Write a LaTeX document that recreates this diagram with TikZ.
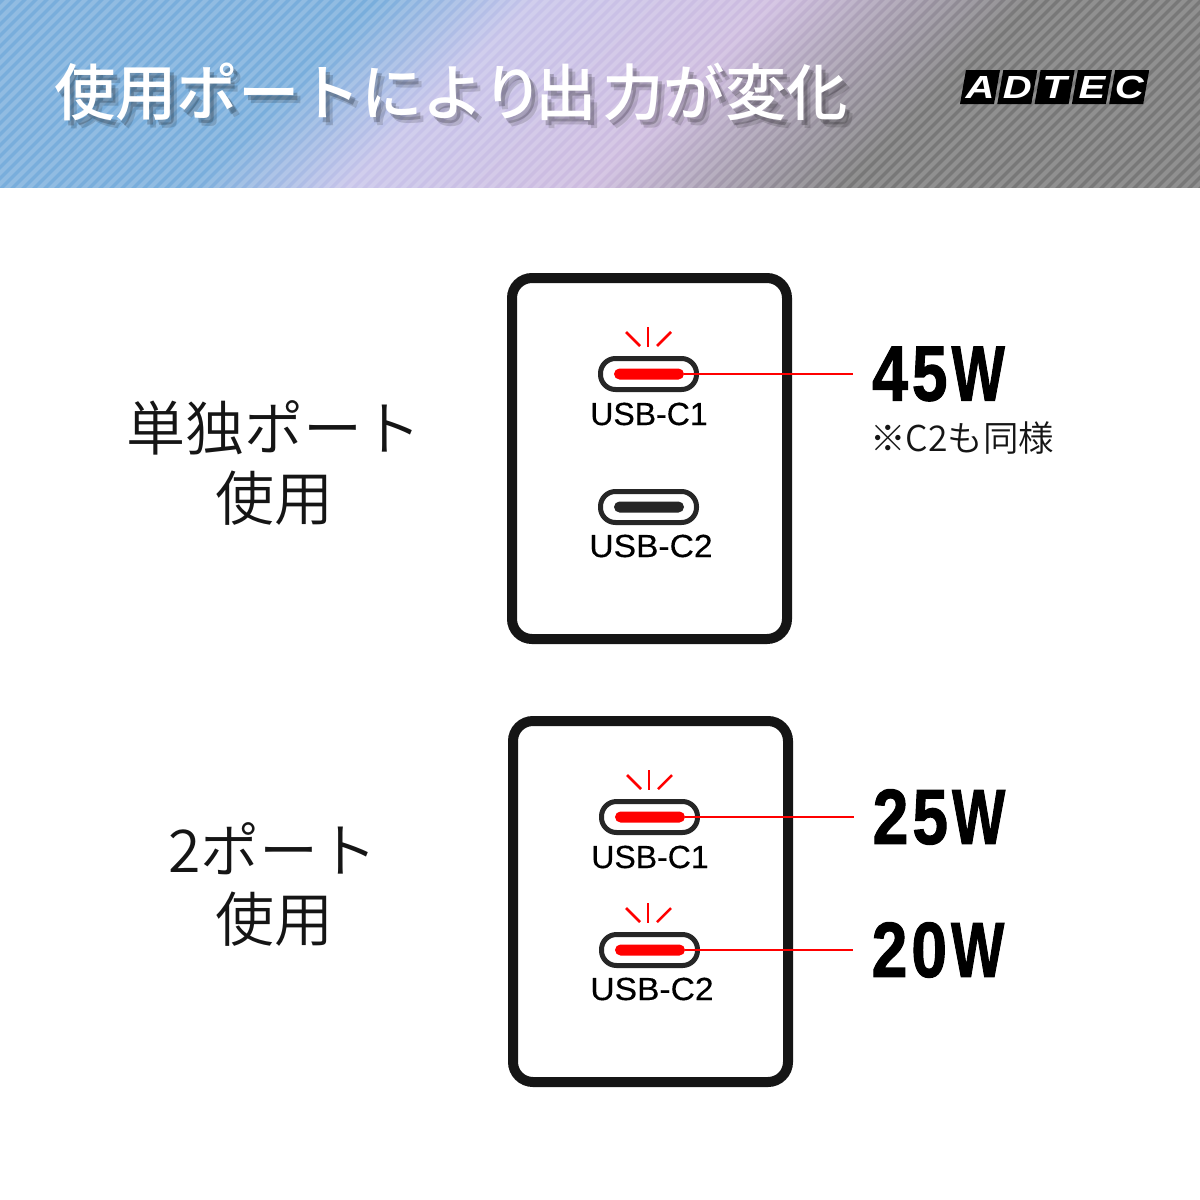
\documentclass[tikz,border=0pt]{standalone}
\usepackage{fontspec}
\usetikzlibrary{calc}
\newfontfamily\jpm{Noto Sans CJK JP Medium}
\newfontfamily\jpl{Noto Sans CJK JP DemiLight}
\newfontfamily\lat{Liberation Sans}[FakeBold=0.35]
\newfontfamily\latb{Liberation Sans Bold}[FakeBold=1.6]
\newfontfamily\latl{Liberation Sans}[BoldItalicFont={Liberation Sans Bold Italic}]
\definecolor{hblue}{HTML}{79AEDC}
\definecolor{hlav}{HTML}{C8C4EA}
\definecolor{hpink}{HTML}{CDBBDF}
\definecolor{hgray}{HTML}{787878}
\definecolor{ink}{HTML}{151515}
\definecolor{pdark}{HTML}{262626}
\pgfdeclarehorizontalshading{hdrgrad}{100bp}{color(0bp)=(hblue);color(43bp)=(hblue);color(48bp)=(hlav);color(55.5bp)=(hpink);color(63.5bp)=(hgray);color(100bp)=(hgray)}
\tikzset{
  x=1pt,y=-1pt,
  device/.style={draw=ink,line width=10pt,rounded corners=20pt,fill=white},
  pill/.style={draw=pdark,line width=5pt,rounded corners=15pt,fill=white,minimum width=96pt,minimum height=31pt,inner sep=0pt},
  slot/.style={rounded corners=5.5pt,minimum width=70pt,minimum height=11pt,inner sep=0pt},
  ray/.style={draw=red,line width=2.5pt},
  lead/.style={draw=red,line width=1.5pt},
  portlabel/.style={font=\lat\fontsize{32}{36}\selectfont,inner sep=0pt,text=black},
  sidelabel/.style={font=\jpl\fontsize{59}{60}\selectfont,inner sep=0pt,text=ink},
  titletext/.style={font=\jpm\fontsize{61.4}{62}\selectfont,inner sep=0pt},
  watt/.style={font=\latb\fontsize{78}{78}\selectfont,inner sep=0pt,xscale=.82,text=black},
  logobox/.style={fill=black,draw=none},
  logotext/.style={font=\latl\bfseries\itshape\fontsize{32}{32}\selectfont,text=white,inner sep=0pt,xscale=1.25}
}
\newcommand{\rayset}[2]{%
  \draw[ray] (#1+0,#2-47) -- (#1+0,#2-27);
  \draw[ray] (#1-22,#2-42) -- (#1-8,#2-28);
  \draw[ray] (#1+23,#2-42) -- (#1+9,#2-28);}
\newcommand{\wattstr}[2]{#1\kern5pt #2\kern5pt\scalebox{.88}[1]{W}}
\newcommand{\titlestr}{使用ポートにより\kern-9pt 出\kern6pt 力が変化}
\begin{document}
\begin{tikzpicture}
\useasboundingbox (0,0) rectangle (1200,1200);
\fill[white] (0,0) rectangle (1200,1200);
% header
\begin{scope}
\clip (0,0) rectangle (1200,187);
\begin{scope}[transform canvas={xslant=1}]
\shade[shading=hdrgrad] (-200,-10) rectangle (1400,200);
\end{scope}
\foreach \k in {0,...,130}{
  \draw[white,opacity=.18,line width=4pt] ({\k*11-20},-5) -- ({\k*11-20-200},195);
}
\end{scope}
% title with soft shadow
\node[titletext,text=black,opacity=.14] at (458,100) {\titlestr};
\node[titletext,text=black,opacity=.2] at (455,97) {\titlestr};
\node[titletext,text=white] (title) at (451,92) {\titlestr};
% logo
\foreach \n/\x/\t in {a/960/A,b/997.3/D,c/1034.6/T,d/1071.9/E,e/1109.2/C}{
  \fill[logobox] (\x,104) -- (\x+6,70) -- (\x+40,70) -- (\x+34,104) -- cycle;
  \node[logotext] (logo\n) at (\x+20,87) {\t};
}
% devices
\draw[device] (512,278) rectangle (787,639);
\draw[device] (513,721) rectangle (788,1082);
% device 1
\rayset{648}{374}
\node[pill] (p1a) at (648.5,374) {};
\node[slot,fill=red] (s1a) at (649,374) {};
\node[portlabel] (l1a) at (649,414) {USB-C1};
\node[pill] (p1b) at (648.5,507) {};
\node[slot,fill=pdark] (s1b) at (649,507) {};
\node[portlabel,xscale=1.05] (l1b) at (651,546) {USB-C2};
\coordinate (e1) at (853,374);
\draw[lead] (s1a.east) -- (e1);
% device 2
\rayset{649}{817}
\node[pill] (p2a) at (649.5,817) {};
\node[slot,fill=red] (s2a) at (650,817) {};
\node[portlabel] (l2a) at (650,857) {USB-C1};
\rayset{648}{950}
\node[pill] (p2b) at (649.5,950) {};
\node[slot,fill=red] (s2b) at (650,950) {};
\node[portlabel,xscale=1.05] (l2b) at (652,989) {USB-C2};
\coordinate (e2) at (854,817);
\coordinate (e3) at (853,950);
\draw[lead] (s2a.east) -- (e2);
\draw[lead] (s2b.east) -- (e3);
% side labels
\node[sidelabel] (t1) at (273.5,428) {単独ポート};
\node[sidelabel] (t2) at (274,498) {使用};
\node[sidelabel] (t3) at (273,849) {2ポート};
\node[sidelabel] (t4) at (274,919) {使用};
% watts
\node[watt] (w1) at (938.5,374) {\wattstr{4}{5}};
\node[watt] (w2) at (939,817) {\wattstr{2}{5}};
\node[watt] (w3) at (938,950) {\wattstr{2}{0}};
\node[font=\jpl\fontsize{35.5}{38}\selectfont,inner sep=0pt,text=ink] (n1) at (962,438) {※C2も同様};
\end{tikzpicture}
\end{document}
